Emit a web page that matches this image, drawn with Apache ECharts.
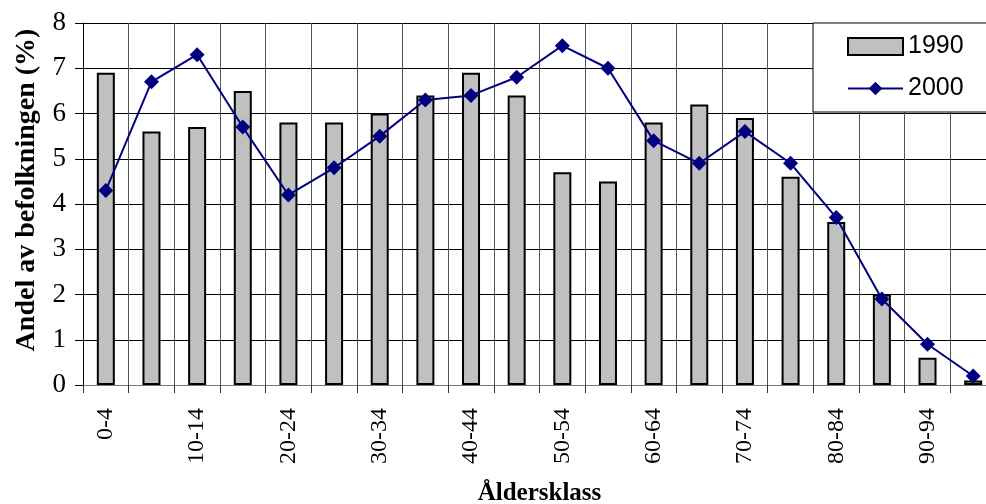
<!DOCTYPE html>
<html>
<head>
    <meta charset="UTF-8">
    <title>Andel av befolkningen</title>
    <style>
        html, body { margin: 0; padding: 0; background: #fff; }
        #chart-container { width: 986px; height: 504px; }
    </style>
</head>
<body>
<div id="chart-container"></div>
<script src="https://cdn.jsdelivr.net/npm/echarts@6/dist/echarts.min.js"></script>
<script>
    // åldersklasser
    const categories = ['0-4', '5-9', '10-14', '15-19', '20-24', '25-29', '30-34', '35-39', '40-44', '45-49',
        '50-54', '55-59', '60-64', '65-69', '70-74', '75-79', '80-84', '85-89', '90-94', '95-99'];
    const values1990 = [6.9, 5.6, 5.7, 6.5, 5.8, 5.8, 6.0, 6.4, 6.9, 6.4, 4.7, 4.5, 5.8, 6.2, 5.9, 4.6, 3.6, 2.0, 0.6, 0.1];
    const values2000 = [4.3, 6.7, 7.3, 5.7, 4.2, 4.8, 5.5, 6.3, 6.4, 6.8, 7.5, 7.0, 5.4, 4.9, 5.6, 4.9, 3.7, 1.9, 0.9, 0.2];

    const serif = '"Liberation Serif", "Times New Roman", serif';
    const sans = '"Liberation Sans", Arial, sans-serif';

    const chart = echarts.init(document.getElementById('chart-container'));

    const option = {
        animation: false,
        grid: { left: 83, top: 23, right: -10, bottom: 119, containLabel: false, outerBoundsMode: 'none' },
        legend: {
            orient: 'vertical',
            left: 813,
            top: 23,
            width: 200,
            padding: [11, 40, 11, 34],
            itemGap: 17,
            itemWidth: 55,
            itemHeight: 17,
            backgroundColor: '#fff',
            borderColor: '#000',
            borderWidth: 1,
            textStyle: { fontFamily: sans, fontSize: 25, color: '#000' },
            data: [{ name: '1990', icon: 'rect' }, { name: '2000' }]
        },
        xAxis: {
            type: 'category',
            data: categories,
            name: 'Åldersklass',
            nameLocation: 'middle',
            nameGap: 96,
            nameTextStyle: { fontFamily: serif, fontSize: 25, fontWeight: 'bold', color: '#000' },
            axisLine: { lineStyle: { color: '#777', width: 1 } },
            axisTick: { show: true, interval: 0, length: 8, lineStyle: { color: '#333' } },
            axisLabel: {
                interval: 1,
                rotate: 90,
                margin: 23,
                fontFamily: serif,
                fontSize: 24,
                color: '#000'
            },
            splitLine: { show: true, interval: 0, lineStyle: { color: '#555', width: 1 } }
        },
        yAxis: {
            type: 'value',
            min: 0,
            max: 8,
            interval: 1,
            name: 'Andel av befolkningen (%)',
            nameLocation: 'middle',
            nameGap: 42,
            nameTextStyle: {
                fontFamily: serif, fontSize: 28, fontWeight: 'bold', color: '#000',
                padding: [0, 0, 0, 28]
            },
            axisLine: { show: true, lineStyle: { color: '#000', width: 1 } },
            axisTick: { show: true, length: 8, lineStyle: { color: '#000' } },
            axisLabel: { margin: 17, fontFamily: serif, fontSize: 27, color: '#000' },
            splitLine: { show: true, lineStyle: { color: '#000', width: 1 } }
        },
        series: [
            {
                name: '1990',
                type: 'bar',
                data: values1990,
                barWidth: 18,
                itemStyle: { color: '#c0c0c0', borderColor: '#000', borderWidth: 2 }
            },
            {
                name: '2000',
                type: 'line',
                data: values2000,
                symbol: 'diamond',
                symbolSize: 15,
                lineStyle: { color: '#000080', width: 2 },
                itemStyle: { color: '#000080' }
            }
        ]
    };

    chart.setOption(option);
</script>
</body>
</html>
